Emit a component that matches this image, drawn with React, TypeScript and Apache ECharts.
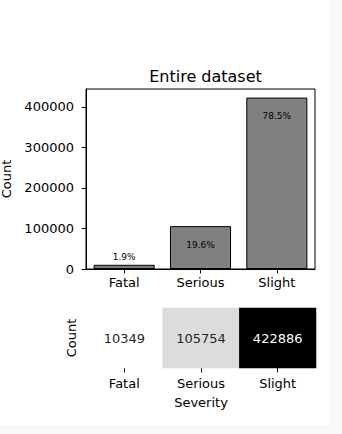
import React, { useEffect, useRef } from "react";
import * as echarts from "echarts";

const categories = ["Fatal", "Serious", "Slight"];
const counts = [10349, 105754, 422886];
const yTicks = [0, 100000, 200000, 300000, 400000];
const yMax = 444030;
const greys = ["#ffffff", "#f0f0f0", "#d9d9d9", "#bdbdbd", "#969696", "#737373", "#525252", "#252525", "#000000"];

const FONT = "DejaVu Sans";
const FS = 13;

export default function App() {
  const ref = useRef<HTMLDivElement>(null);
  useEffect(() => {
    if (!ref.current) return;
    const chart = echarts.init(ref.current, undefined, { renderer: "svg" });
    const total = counts.reduce((a, b) => a + b, 0);
    const vmin = Math.min(...counts);
    const vmax = Math.max(...counts);
    const barData = counts.map((v, i) => ({
      value: v,
      label: {
        show: true,
        position: i === 0 ? "top" : "insideTop",
        distance: i === 0 ? 3 : 14,
        formatter: ((v / total) * 100).toFixed(1) + "%",
        fontSize: 9,
        color: "#000",
        fontFamily: FONT,
      },
    }));
    const heatData = counts.map((v, i) => ({
      value: [i, 0, v],
      label: {
        show: true,
        formatter: String(v),
        color: (v - vmin) / (vmax - vmin) > 0.5 ? "#ffffff" : "#262626",
        fontSize: FS,
        fontFamily: FONT,
      },
    }));
    chart.setOption({
      animation: false,
      backgroundColor: "#ffffff",
      textStyle: { fontFamily: FONT },
      title: {
        text: "Entire dataset",
        left: 200.5,
        top: 63,
        textAlign: "center",
        textStyle: { fontSize: 16, fontWeight: "normal", color: "#000", fontFamily: FONT },
      },
      grid: [
        { left: 86, top: 89, width: 229, height: 180, show: true, borderColor: "#000", borderWidth: 1, backgroundColor: "transparent", outerBoundsMode: "none", containLabel: false },
        { left: 86, top: 308, width: 230, height: 60, outerBoundsMode: "none", containLabel: false },
      ],
      visualMap: {
        show: false,
        seriesIndex: 1,
        min: vmin,
        max: vmax,
        dimension: 2,
        inRange: { color: greys },
      },
      xAxis: [
        {
          type: "category",
          gridIndex: 0,
          data: categories,
          axisLine: { show: true, lineStyle: { color: "#000", width: 1 } },
          axisTick: { show: true, alignWithLabel: true, length: 4.4, lineStyle: { color: "#000" } },
          axisLabel: { color: "#000", fontSize: FS, margin: 7, fontFamily: FONT },
        },
        {
          type: "category",
          gridIndex: 1,
          data: categories,
          name: "Severity",
          nameLocation: "middle",
          nameGap: 28,
          nameTextStyle: { color: "#000", fontSize: FS, fontFamily: FONT },
          axisLine: { show: false },
          axisTick: { show: true, alignWithLabel: true, length: 4.4, lineStyle: { color: "#000" } },
          axisLabel: { color: "#000", fontSize: FS, margin: 9, fontFamily: FONT },
          splitArea: { show: false },
        },
      ],
      yAxis: [
        {
          type: "value",
          gridIndex: 0,
          min: 0,
          max: yMax,
          interval: 100000,
          name: "Count",
          nameLocation: "middle",
          nameGap: 70,
          nameTextStyle: { color: "#000", fontSize: FS, fontFamily: FONT },
          splitLine: { show: false },
          axisLine: { show: true, lineStyle: { color: "#000", width: 1 } },
          axisTick: { show: true, length: 4.4, lineStyle: { color: "#000" }, customValues: yTicks },
          axisLabel: { color: "#000", fontSize: FS, margin: 12, fontFamily: FONT, customValues: yTicks, formatter: (v: number) => String(v) },
        },
        {
          type: "category",
          gridIndex: 1,
          data: [""],
          name: "Count",
          nameLocation: "middle",
          nameGap: 8,
          nameTextStyle: { color: "#000", fontSize: FS, fontFamily: FONT },
          axisLine: { show: false },
          axisTick: { show: false },
          axisLabel: { show: false },
          splitArea: { show: false },
        },
      ],
      series: [
        {
          type: "bar",
          xAxisIndex: 0,
          yAxisIndex: 0,
          data: barData,
          barWidth: "80%",
          itemStyle: { color: "#808080", borderColor: "#000", borderWidth: 1 },
        },
        {
          type: "heatmap",
          xAxisIndex: 1,
          yAxisIndex: 1,
          data: heatData,
          itemStyle: { borderWidth: 0 },
        },
      ],
    });
    return () => chart.dispose();
  }, []);
  return (
    <div style={{ position: "fixed", left: 0, top: 0, width: 342, height: 434, background: "#f8f8f8" }}>
      <div ref={ref} style={{ position: "absolute", left: 0, top: 0, width: 330, height: 425 }} />
    </div>
  );
}
